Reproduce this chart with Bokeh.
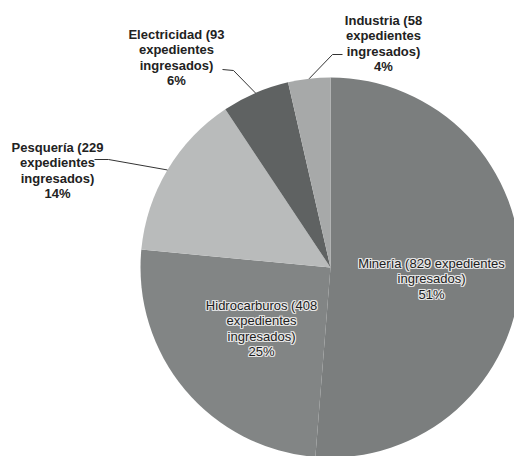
import math
from bokeh.plotting import figure
from bokeh.models import Range1d, ColumnDataSource
from bokeh.core.properties import value
from bokeh.embed import file_html
from bokeh.resources import INLINE

# ---- data ----
categories = ["Minería", "Hidrocarburos", "Pesquería", "Electricidad", "Industria"]
expedientes = [829, 408, 229, 93, 58]
colors = ["#7b7e7e", "#828585", "#b9bbbb", "#5f6262", "#a7a9a9"]

# ---- layout (pixel coordinates of the 514x456 window, y downward) ----
W, H = 514, 456
CX_PX, CY_PX, R = 330, 267, 190
LINE_STEP = 15.5
label_layout = {
    "Minería":       dict(x=431, y=278, inside=True,  wrap="one"),
    "Hidrocarburos": dict(x=261, y=328, inside=True,  wrap="two"),
    "Pesquería":     dict(x=57,  y=170, inside=False, wrap="two"),
    "Electricidad":  dict(x=176, y=57,  inside=False, wrap="two"),
    "Industria":     dict(x=383, y=43,  inside=False, wrap="two"),
}
leader_layout = {
    "Pesquería":    [(94, 159), (108, 159)],
    "Electricidad": [(222, 69), (233, 70)],
    "Industria":    [(342, 54), (332, 54)],
}

def Y(py):
    return H - py

p = figure(width=W, height=H, output_backend="svg", toolbar_location=None,
           x_range=Range1d(0, W), y_range=Range1d(0, H),
           min_border=0, outline_line_color=None)
p.axis.visible = False
p.grid.visible = False
p.background_fill_color = "white"
p.border_fill_color = "white"

total = sum(expedientes)
cx, cy = CX_PX, Y(CY_PX)
starts, ends, mids = [], [], []
cum = 0.0
for v in expedientes:
    f0 = cum / total
    cum += v
    f1 = cum / total
    starts.append(math.pi / 2 - 2 * math.pi * f0)
    ends.append(math.pi / 2 - 2 * math.pi * f1)
    mids.append(math.pi / 2 - 2 * math.pi * (f0 + f1) / 2)

src = ColumnDataSource(dict(cat=categories, val=expedientes, start=starts, end=ends, color=colors))
p.wedge(x=cx, y=cy, radius=R, start_angle="start", end_angle="end", direction="clock",
        fill_color="color", line_color=None, source=src)

# leader lines
xs, ys = [], []
for cat, a in zip(categories, mids):
    if cat in leader_layout:
        pts = leader_layout[cat]
        ex, ey = cx + R * math.cos(a), cy + R * math.sin(a)
        xs.append([q[0] for q in pts] + [ex])
        ys.append([Y(q[1]) for q in pts] + [ey])
p.multi_line(xs=xs, ys=ys, line_color="#333333", line_width=1)

# labels
for cat, v in zip(categories, expedientes):
    pct = round(100 * v / total)
    L = label_layout[cat]
    if L["wrap"] == "one":
        lines = [f"{cat} ({v} expedientes", "ingresados)", f"{pct}%"]
    else:
        lines = [f"{cat} ({v}", "expedientes", "ingresados)", f"{pct}%"]
    n = len(lines)
    lx = [L["x"]] * n
    ly = [Y(L["y"] + (i - (n - 1) / 2) * LINE_STEP) for i in range(n)]
    if L["inside"]:
        for dx, dy in [(-1, 0), (1, 0), (0, -1), (0, 1), (-1, -1), (1, 1), (-1, 1), (1, -1)]:
            p.text(x=lx, y=ly, text=lines, x_offset=dx, y_offset=dy,
                   text_font=value("Liberation Sans"), text_font_size="13px",
                   text_align="center", text_baseline="middle", text_color="#e6e6e6")
        p.text(x=lx, y=ly, text=lines, text_font=value("Liberation Sans"), text_font_size="13px",
               text_align="center", text_baseline="middle", text_color="#1e1e1e")
    else:
        p.text(x=lx, y=ly, text=lines, text_font=value("Liberation Sans"), text_font_size="13px",
               text_font_style="bold", text_align="center", text_baseline="middle",
               text_color="#222222")

open("out.html", "w").write(file_html(p, INLINE))
